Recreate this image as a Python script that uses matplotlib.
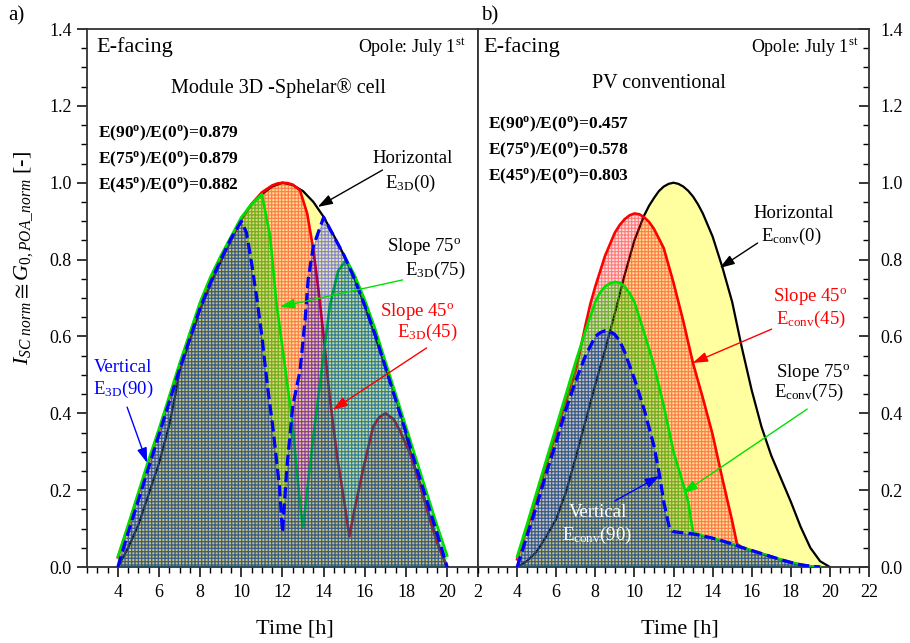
import matplotlib
matplotlib.use("Agg")
import matplotlib.pyplot as plt
from matplotlib.ticker import MultipleLocator, FixedLocator, FormatStrFormatter
from matplotlib.colors import to_rgba

# ===== Fuentes =====
plt.rcParams['font.family'] = 'Liberation Serif'
plt.rcParams['mathtext.fontset'] = 'custom'
plt.rcParams['mathtext.rm'] = 'Liberation Serif'
plt.rcParams['mathtext.it'] = 'Liberation Serif:italic'
plt.rcParams['mathtext.bf'] = 'Liberation Serif:bold'
plt.rcParams['hatch.linewidth'] = 0.8

# ===== a) Moduł 3D Sphelar =====
t3d_0  = [4, 4.5, 5, 5.25, 5.5, 6, 6.5, 6.8, 7, 7.5, 8, 8.5, 9, 9.5, 10, 10.5, 11, 11.5, 12,
          12.5, 13, 13.5, 14, 14.5, 15, 15.5, 16, 16.5, 17, 17.4, 17.85, 18.2, 18.7, 19.15, 19.6, 20]
e3d_0  = [0.0, 0.05, 0.11, 0.15, 0.19, 0.27, 0.37, 0.45, 0.51, 0.59, 0.67, 0.735, 0.795, 0.85, 0.905,
          0.945, 0.97, 0.99, 1.0, 0.994, 0.978, 0.95, 0.911, 0.862, 0.81, 0.75, 0.68, 0.60, 0.52,
          0.46, 0.38, 0.30, 0.215, 0.13, 0.055, 0.0]

t3d_45 = [4, 4.5, 5, 5.5, 6, 6.5, 7, 7.5, 8, 8.5, 9, 9.5, 10, 10.5, 11, 11.5, 11.75, 12, 12.25,
          12.5, 12.85, 13.2, 13.5, 13.75, 14.0, 14.3, 14.65, 15.0, 15.25, 15.5, 15.9, 16.4, 16.7,
          17.0, 17.4, 17.7, 18.2, 18.7, 19.15, 19.6, 20]
e3d_45 = [0.025, 0.105, 0.19, 0.275, 0.355, 0.44, 0.525, 0.605, 0.685, 0.75, 0.805, 0.855, 0.905,
          0.945, 0.975, 0.993, 0.998, 1.0, 0.999, 0.995, 0.98, 0.92, 0.825, 0.72, 0.60, 0.44, 0.29,
          0.17, 0.08, 0.15, 0.25, 0.365, 0.39, 0.40, 0.385, 0.355, 0.295, 0.21, 0.125, 0.05, 0.0]

t3d_75 = [4, 4.5, 5, 5.5, 6, 6.5, 7, 7.5, 8, 8.5, 9, 9.5, 10, 10.5, 11, 11.4, 11.7, 12.2, 12.45,
          12.9, 13.0, 13.5, 13.9, 14.3, 14.7, 15.1, 15.5, 16, 16.5, 17, 17.5, 18, 18.5, 19, 19.5, 20]
e3d_75 = [0.027, 0.11, 0.195, 0.28, 0.36, 0.445, 0.53, 0.61, 0.69, 0.755, 0.81, 0.86, 0.91, 0.945,
          0.97, 0.86, 0.69, 0.49, 0.39, 0.14, 0.105, 0.34, 0.51, 0.68, 0.77, 0.80, 0.76, 0.695,
          0.62, 0.535, 0.45, 0.365, 0.28, 0.195, 0.11, 0.03]

t3d_90 = [4, 4.5, 5, 5.5, 6, 6.5, 7, 7.5, 8, 8.5, 9, 9.5, 10, 10.25, 10.5, 10.75, 11.0, 11.25,
          11.55, 11.85, 12.0, 12.2, 12.5, 12.85, 13.1, 13.25, 13.5, 14.0, 14.5, 15, 15.5, 16,
          16.5, 17, 17.5, 18, 18.5, 19, 19.5, 20]
e3d_90 = [0.0, 0.09, 0.175, 0.26, 0.345, 0.43, 0.515, 0.595, 0.675, 0.74, 0.80, 0.855, 0.90, 0.87,
          0.79, 0.70, 0.60, 0.48, 0.355, 0.21, 0.09, 0.25, 0.42, 0.51, 0.645, 0.75, 0.835, 0.91,
          0.86, 0.81, 0.75, 0.68, 0.605, 0.52, 0.435, 0.35, 0.26, 0.175, 0.09, 0.0]

ratios_3d = [0.879, 0.879, 0.882]

# ===== b) PV konwencjonalny =====
tc_0  = [4, 4.5, 5, 5.5, 6, 6.5, 7, 7.5, 8, 8.5, 9, 9.5, 10, 10.5, 10.75, 11, 11.25, 11.5, 11.75,
         12, 12.25, 12.5, 12.75, 13, 13.25, 13.5, 14, 14.5, 15, 15.5, 16, 16.5, 17, 17.5, 18,
         18.5, 19, 19.5, 20]
ec_0  = [0.0, 0.015, 0.04, 0.08, 0.125, 0.195, 0.285, 0.38, 0.475, 0.565, 0.66, 0.76, 0.85, 0.915,
         0.94, 0.96, 0.978, 0.99, 0.997, 1.0, 0.997, 0.99, 0.979, 0.964, 0.944, 0.92, 0.86, 0.78,
         0.69, 0.57, 0.46, 0.365, 0.29, 0.23, 0.17, 0.105, 0.05, 0.015, 0.0]

tc_45 = [4, 4.5, 5, 5.5, 6, 6.5, 7, 7.25, 7.5, 7.75, 8, 8.5, 9, 9.25, 9.5, 9.75, 10, 10.25, 10.5,
         10.75, 11, 11.5, 12, 12.5, 13, 13.5, 14, 14.5, 15, 15.25, 15.5, 16, 16.5, 17, 17.5, 18,
         18.5, 19, 19.5]
ec_45 = [0.02, 0.10, 0.18, 0.265, 0.35, 0.43, 0.51, 0.57, 0.63, 0.685, 0.73, 0.81, 0.87, 0.89,
         0.905, 0.915, 0.92, 0.918, 0.91, 0.898, 0.88, 0.83, 0.74, 0.64, 0.53, 0.44, 0.345, 0.23,
         0.12, 0.06, 0.051, 0.043, 0.035, 0.027, 0.019, 0.012, 0.006, 0.002, 0.0]

tc_75 = [4, 4.5, 5, 5.5, 6, 6.5, 7, 7.5, 8, 8.25, 8.5, 8.75, 9, 9.25, 9.5, 9.75, 10, 10.5, 11,
         11.5, 12, 12.5, 12.75, 13, 13.5, 14, 14.5, 15, 15.5, 16, 16.5, 17, 17.5, 18, 18.5, 19, 19.5]
ec_75 = [0.027, 0.11, 0.195, 0.28, 0.365, 0.45, 0.535, 0.615, 0.69, 0.715, 0.73, 0.738, 0.742,
         0.74, 0.73, 0.713, 0.69, 0.61, 0.525, 0.42, 0.30, 0.215, 0.17, 0.09, 0.081, 0.075, 0.068,
         0.06, 0.051, 0.043, 0.035, 0.027, 0.019, 0.012, 0.006, 0.002, 0.0]

tc_90 = [4, 4.5, 5, 5.5, 6, 6.5, 7, 7.5, 8, 8.25, 8.5, 8.75, 9, 9.25, 9.5, 10, 10.5, 11, 11.3,
         11.5, 11.8, 12, 12.5, 13, 13.5, 14, 14.5, 15, 15.5, 16, 16.5, 17, 17.5, 18, 18.5, 19, 19.5]
ec_90 = [0.0, 0.08, 0.16, 0.245, 0.325, 0.41, 0.485, 0.55, 0.60, 0.61, 0.615, 0.613, 0.605, 0.588,
         0.56, 0.49, 0.41, 0.315, 0.235, 0.17, 0.10, 0.092, 0.089, 0.086, 0.081, 0.075, 0.068,
         0.06, 0.051, 0.043, 0.035, 0.027, 0.019, 0.012, 0.006, 0.002, 0.0]

ratios_conv = [0.457, 0.578, 0.803]
tilts = [90, 75, 45]

RED, GREEN, BLUE = '#FF0000', '#00E000', '#0000FF'


def serie(ax, t, e, col, face, fa, ha, lw, z, ls='-'):
    # relleno cuadriculado semitransparente + curva
    ax.fill_between(t, e, 0, facecolor=to_rgba(face, fa), edgecolor=to_rgba(col, ha),
                    hatch='+++++', linewidth=0, zorder=z)
    ax.plot(t, e, color=col, lw=lw, ls=ls, zorder=z)


def curvas(ax, t0, e0, t45, e45, t75, e75, t90, e90):
    serie(ax, t0, e0, 'k', '#FFFFA0', 1.0, 0.0, 1.6, 1)
    serie(ax, t45, e45, RED, RED, 0.13, 0.45, 1.9, 2)
    serie(ax, t75, e75, GREEN, '#00C000', 0.15, 0.5, 1.9, 3)
    serie(ax, t90, e90, BLUE, BLUE, 0.10, 0.42, 2.3, 4, ls=(0, (3.5, 1.6)))


def ejes(ax):
    ax.set_ylim(0, 1.4)
    ax.yaxis.set_major_locator(MultipleLocator(0.2))
    ax.yaxis.set_minor_locator(MultipleLocator(0.05))
    ax.yaxis.set_major_formatter(FormatStrFormatter('%.1f'))
    ax.xaxis.set_minor_locator(MultipleLocator(0.5))
    ax.tick_params(axis='x', which='both', direction='out', top=False, labelsize=13, pad=5)
    ax.tick_params(axis='both', which='major', length=7, width=1.1)
    ax.tick_params(axis='both', which='minor', length=4, width=1.0)
    for s in ax.spines.values():
        s.set_linewidth(1.3)
        s.set_color('#333333')
    ax.set_xlabel('Time [h]', fontsize=16)


def flecha(ax, txt_xy, tip_xy, col):
    ax.annotate('', xy=tip_xy, xytext=txt_xy, zorder=10,
                arrowprops=dict(arrowstyle='-|>,head_length=0.9,head_width=0.3', color=col,
                                lw=1.0, shrinkA=0, shrinkB=0))


def opis(ax, x, y, s, col='k', size=13.5, **kw):
    ax.text(x, y, s, color=col, fontsize=size, ha='center', va='center', zorder=11, **kw)


fig = plt.figure(figsize=(9.10, 6.43), dpi=100)
ax1 = fig.add_axes([87 / 910, 76 / 643, 391 / 910, 538 / 643])
ax2 = fig.add_axes([478 / 910, 76 / 643, 391 / 910, 538 / 643])

# ----- a) -----
curvas(ax1, t3d_0, e3d_0, t3d_45, e3d_45, t3d_75, e3d_75, t3d_90, e3d_90)
ejes(ax1)
ax1.set_xlim(2.5, 21.5)
ax1.xaxis.set_major_locator(FixedLocator(range(4, 21, 2)))
ax1.tick_params(axis='y', which='both', direction='out', right=False, labelsize=13, pad=4)
ax1.xaxis.set_label_coords(0.532, -0.098)

ax1.text(2.95, 1.353, 'E-facing', fontsize=16, va='center')
ax1.text(20.9, 1.353, r'Opole: July 1$^{\mathrm{st}}$', fontsize=13, va='center', ha='right')
opis(ax1, 11.8, 1.246, 'Module 3D -Sphelar® cell', size=14.5)
for i, (a, r) in enumerate(zip(tilts, ratios_3d)):
    ax1.text(3.04, 1.129 - i * 0.0675,
             r'E(%d$^{\mathbf{o}}$)/E(0$^{\mathbf{o}}$)=%.3f' % (a, r),
             fontsize=12.5, fontweight='bold', va='center')

opis(ax1, 18.32, 1.064, 'Horizontal')
opis(ax1, 18.22, 0.999, r'E$_{\mathrm{3D}}$(0)')
flecha(ax1, (16.86, 1.033), (13.71, 0.937), 'k')
opis(ax1, 18.9, 0.833, r'Slope 75$^{\mathrm{o}}$')
opis(ax1, 19.43, 0.773, r'E$_{\mathrm{3D}}$(75)')
flecha(ax1, (17.83, 0.747), (11.87, 0.677), GREEN)
opis(ax1, 18.56, 0.664, r'Slope 45$^{\mathrm{o}}$', col=RED)
opis(ax1, 19.05, 0.611, r'E$_{\mathrm{3D}}$(45)', col=RED)
flecha(ax1, (19.0, 0.570), (14.44, 0.409), RED)
opis(ax1, 4.26, 0.520, 'Vertical', col=BLUE)
opis(ax1, 4.26, 0.463, r'E$_{\mathrm{3D}}$(90)', col=BLUE)
flecha(ax1, (4.45, 0.416), (5.42, 0.271), BLUE)

# ----- b) -----
curvas(ax2, tc_0, ec_0, tc_45, ec_45, tc_75, ec_75, tc_90, ec_90)
ejes(ax2)
ax2.set_xlim(2, 22)
ax2.xaxis.set_major_locator(MultipleLocator(2))
ax2.yaxis.tick_right()
ax2.tick_params(axis='y', which='both', direction='in', left=False, right=True,
                labelsize=13, pad=8)
ax2.xaxis.set_label_coords(0.517, -0.098)

ax2.text(2.29, 1.353, 'E-facing', fontsize=16, va='center')
ax2.text(21.45, 1.353, r'Opole: July 1$^{\mathrm{st}}$', fontsize=13, va='center', ha='right')
opis(ax2, 11.25, 1.259, 'PV conventional', size=14.5)
for i, (a, r) in enumerate(zip(tilts, ratios_conv)):
    ax2.text(2.5, 1.153 - i * 0.068,
             r'E(%d$^{\mathbf{o}}$)/E(0$^{\mathbf{o}}$)=%.3f' % (a, r),
             fontsize=12.5, fontweight='bold', va='center')

opis(ax2, 18.16, 0.921, 'Horizontal')
opis(ax2, 18.05, 0.859, r'E$_{\mathrm{conv}}$(0)')
flecha(ax2, (16.3, 0.843), (14.36, 0.778), 'k')
opis(ax2, 18.97, 0.703, r'Slope 45$^{\mathrm{o}}$', col=RED)
opis(ax2, 19.02, 0.643, r'E$_{\mathrm{conv}}$(45)', col=RED)
flecha(ax2, (17.02, 0.619), (12.98, 0.531), RED)
opis(ax2, 19.12, 0.507, r'Slope 75$^{\mathrm{o}}$')
opis(ax2, 18.91, 0.455, r'E$_{\mathrm{conv}}$(75)')
flecha(ax2, (18.84, 0.411), (12.47, 0.192), GREEN)
opis(ax2, 8.13, 0.143, 'Vertical', col='white')
opis(ax2, 8.07, 0.083, r'E$_{\mathrm{conv}}$(90)', col='white')
flecha(ax2, (9.0, 0.172), (11.3, 0.237), BLUE)

# ----- etiquetas comunes -----
fig.text(24 / 910, 1 - 258 / 643, r'$I_{SC\ norm}\cong G_{0,POA\_norm}$ [-]',
         rotation=90, fontsize=16, ha='center', va='center')
fig.text(8 / 910, 1 - 16 / 643, 'a)', fontsize=15, va='center')
fig.text(481 / 910, 1 - 16 / 643, 'b)', fontsize=15, va='center')

fig.savefig('out.png', dpi=100)
